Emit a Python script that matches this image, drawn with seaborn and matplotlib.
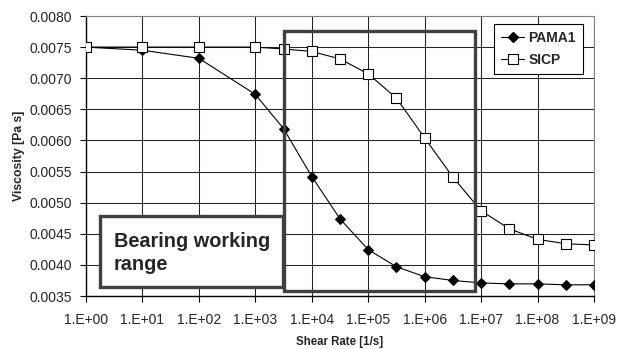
import numpy as np
import pandas as pd
import matplotlib
matplotlib.use("Agg")
import matplotlib.pyplot as plt
import seaborn as sns
from matplotlib.patches import Rectangle
from matplotlib.lines import Line2D
from matplotlib.ticker import FixedLocator, FuncFormatter

shear_rate = [1e0, 1e1, 1e2, 1e3, 3.16e3, 1e4, 3.16e4, 1e5, 3.16e5, 1e6,
              3.16e6, 1e7, 3.16e7, 1e8, 3.16e8, 1e9]
pama1 = [0.00750, 0.00745, 0.00732, 0.00674, 0.00619, 0.00542, 0.00474, 0.004245,
         0.00397, 0.00381, 0.00375, 0.00371, 0.003695, 0.003695, 0.00368, 0.00368]
sicp = [0.00750, 0.00750, 0.00750, 0.00750, 0.00747, 0.00743, 0.00731, 0.00707,
        0.00668, 0.00604, 0.00541, 0.00487, 0.00458, 0.00441, 0.00434, 0.00432]
series_names = ["PAMA1", "SICP"]
x_ticks = [1e0, 1e1, 1e2, 1e3, 1e4, 1e5, 1e6, 1e7, 1e8, 1e9]
y_ticks = [0.0035, 0.0040, 0.0045, 0.0050, 0.0055, 0.0060, 0.0065, 0.0070, 0.0075, 0.0080]
annotation = "Bearing working\nrange"

df = pd.DataFrame({
    "x": shear_rate * 2,
    "y": pama1 + sicp,
    "series": [series_names[0]] * len(pama1) + [series_names[1]] * len(sicp),
})

sns.set_style("white")
plt.rcParams["font.family"] = ["Liberation Sans", "DejaVu Sans"]

fig = plt.figure(figsize=(6.26, 3.49), dpi=100)
ax = fig.add_axes([86 / 626, 1 - 296 / 349, (594 - 86) / 626, (296 - 16) / 349])

sns.lineplot(data=df, x="x", y="y", hue="series", style="series",
             palette={"PAMA1": "black", "SICP": "black"},
             markers={"PAMA1": "D", "SICP": "s"}, dashes=False,
             linewidth=0.8, ax=ax, legend=False)
lines = ax.get_lines()
lines[0].set_markersize(5)
lines[0].set_markerfacecolor("black")
lines[0].set_markeredgecolor("black")
lines[1].set_markersize(7)
lines[1].set_markerfacecolor("white")
lines[1].set_markeredgecolor("black")
lines[1].set_markeredgewidth(0.8)
lines[0].set_zorder(4)
lines[1].set_zorder(5)

ax.set_xscale("log")
ax.set_xlim(1e0, 1e9)
ax.set_ylim(0.0035, 0.0080)
ax.xaxis.set_major_locator(FixedLocator(x_ticks))
ax.xaxis.set_minor_locator(FixedLocator([]))
ax.xaxis.set_major_formatter(FuncFormatter(lambda v, p: "1.E+%02d" % int(round(np.log10(v)))))
ax.set_yticks(y_ticks)
ax.yaxis.set_major_formatter(FuncFormatter(lambda v, p: "%.4f" % v))
ax.tick_params(axis="both", labelsize=10, length=4, width=0.8, color="black",
               direction="out", left=True, bottom=True)
ax.tick_params(axis="x", pad=8)
ax.tick_params(axis="y", pad=6)
ax.grid(True, color="#222222", linewidth=0.75)
ax.set_axisbelow(True)
for s in ["left", "bottom"]:
    ax.spines[s].set_color("black")
    ax.spines[s].set_linewidth(1.0)
for s in ["top", "right"]:
    ax.spines[s].set_color("#808080")
    ax.spines[s].set_linewidth(0.8)

ax.set_xlabel("Shear Rate [1/s]", fontsize=8.3, fontweight="bold", labelpad=6.5)
ax.set_ylabel("Viscosity [Pa s]", fontsize=8.8, fontweight="bold", labelpad=3)

# working range box
ax.add_patch(Rectangle((10 ** 3.5, 0.00358), 10 ** 6.89 - 10 ** 3.5, 0.007754 - 0.00358,
                       fill=False, edgecolor="#404040", linewidth=2.4, zorder=6,
                       clip_on=False))

# annotation text box
tx0 = (100 - 86) / (594 - 86)
tx1 = (283 - 86) / (594 - 86)
ty0 = (296 - 287) / 280
ty1 = (296 - 216) / 280
ax.add_patch(Rectangle((tx0, ty0), tx1 - tx0, ty1 - ty0, transform=ax.transAxes,
                       facecolor="white", edgecolor="#404040", linewidth=2.4, zorder=7))
ax.text((114 - 86) / 508, (ty0 + ty1) / 2 - 0.005, annotation, transform=ax.transAxes,
        fontsize=14.3, fontweight="bold", va="center", ha="left", zorder=8,
        linespacing=1.3)

handles = [Line2D([], [], color="black", marker="D", markersize=5, linewidth=0.8,
                  markerfacecolor="black"),
           Line2D([], [], color="black", marker="s", markersize=7, linewidth=0.8,
                  markerfacecolor="white", markeredgewidth=0.8)]
leg = ax.legend(handles, series_names, loc="upper right",
                bbox_to_anchor=((583 - 86) / 508, (296 - 24) / 280),
                frameon=True, fancybox=False, edgecolor="black", framealpha=1,
                prop={"size": 10, "weight": "bold"}, handlelength=1.7,
                handletextpad=0.3, borderpad=0.5, labelspacing=0.55,
                borderaxespad=0)
leg.get_frame().set_linewidth(0.8)
leg.set_zorder(9)

fig.savefig("out.png", dpi=100)
